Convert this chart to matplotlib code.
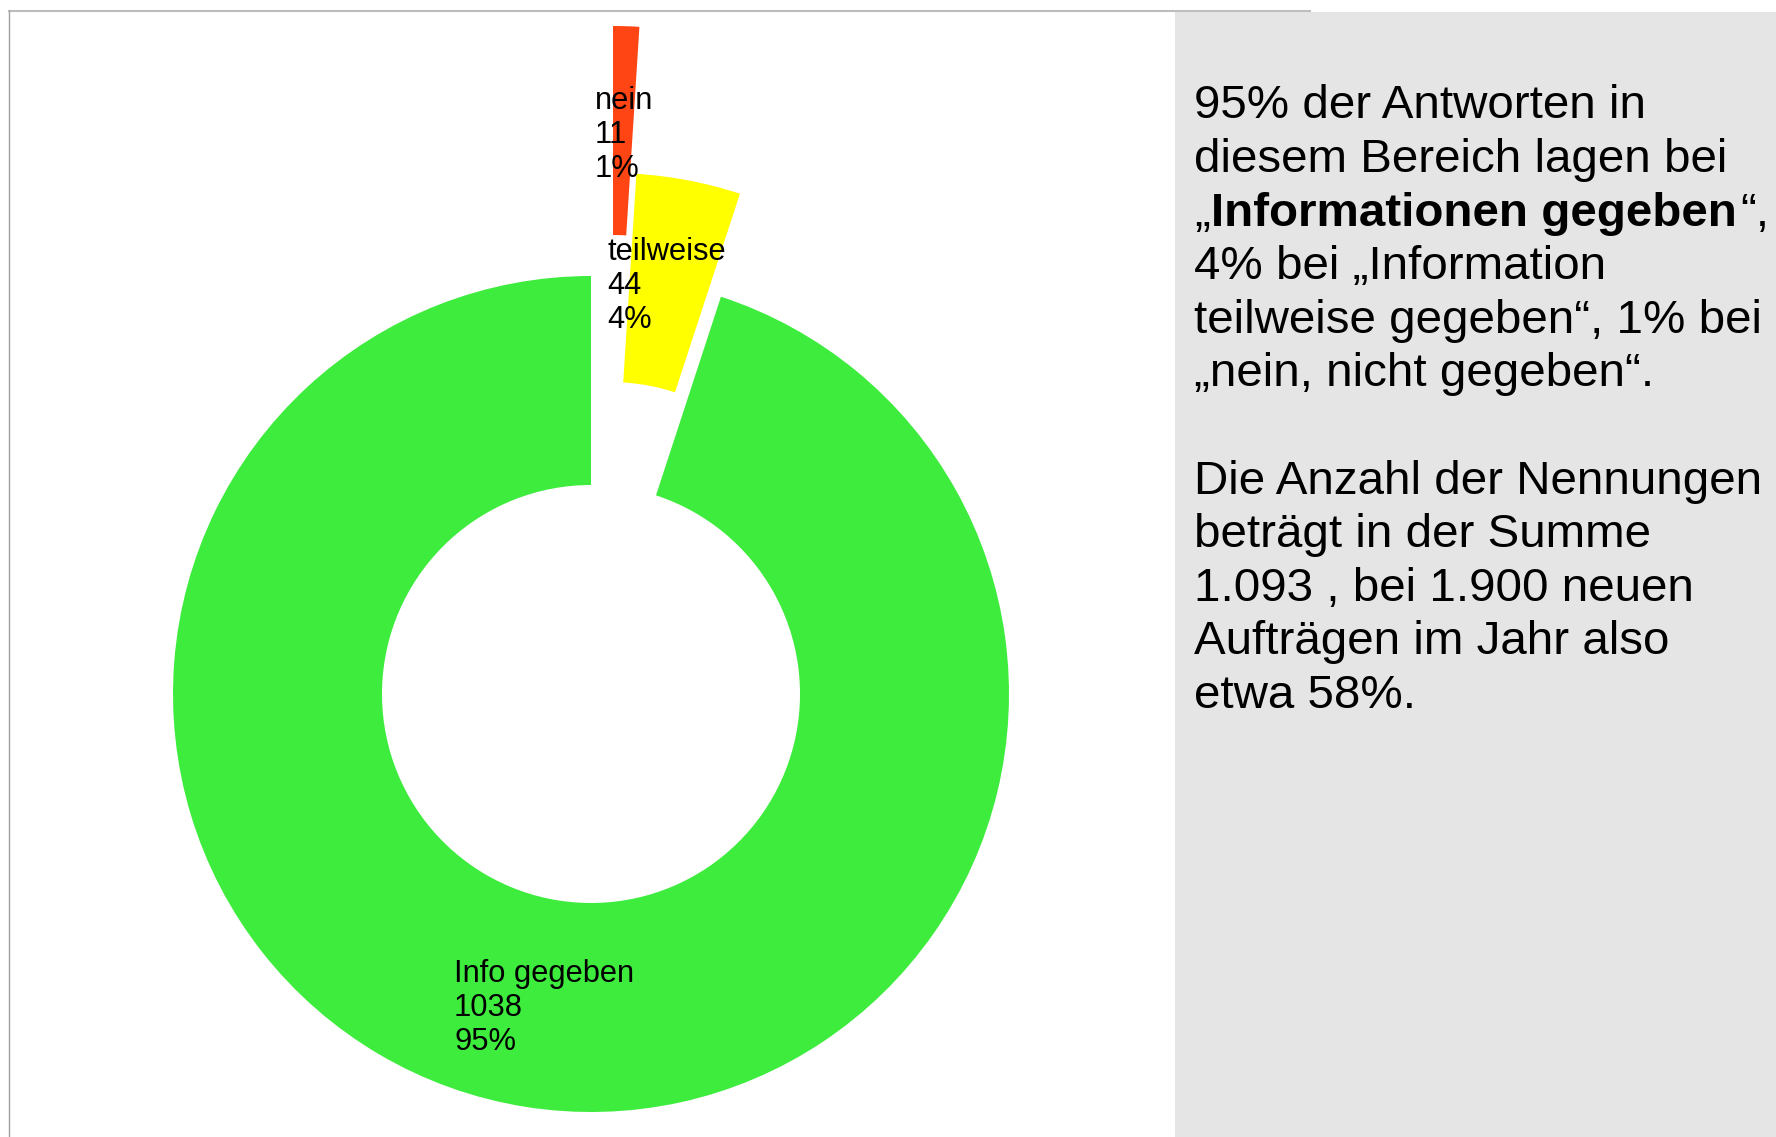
import matplotlib.pyplot as plt
from matplotlib.patches import Rectangle

W, H = 1776, 1137

# data
categories = ['Info gegeben', 'teilweise', 'nein']
counts = [1038, 44, 11]
colors = ['#3eec3e', '#ffff00', '#ff4514']

lines_top = ['95% der Antworten in',
             'diesem Bereich lagen bei',
             None,  # mixed bold line, drawn separately
             '4% bei \u201eInformation',
             'teilweise gegeben\u201c, 1% bei',
             '\u201enein, nicht gegeben\u201c.',
             '',
             'Die Anzahl der Nennungen',
             'beträgt in der Summe',
             '1.093 , bei 1.900 neuen',
             'Aufträgen im Jahr also',
             'etwa 58%.']
bold_line = ['\u201e', 'Informationen gegeben', '\u201c,']

plt.rcParams['font.family'] = ['Liberation Sans', 'DejaVu Sans']

fig = plt.figure(figsize=(W / 100, H / 100), dpi=100)
ax = fig.add_axes([0, 0, 1, 1])


def Y(y):
    # pixel row (from top) -> data y
    return H - y


# grey side panel and frame lines
ax.add_patch(Rectangle((1175, 0), W - 1175, Y(12), facecolor='#e5e5e5',
                       edgecolor='none', zorder=0))
ax.plot([9, 1310], [Y(11), Y(11)], color='#bdbdbd', lw=1.5, zorder=1)
ax.plot([9, 9], [Y(11), 0], color='#a0a0a0', lw=1, zorder=1)

# donut
cx, cy, R = 591, Y(694), 418
wedges, _ = ax.pie(counts, colors=colors, startangle=90, counterclock=True,
                   radius=R, center=(cx, cy),
                   wedgeprops=dict(width=R / 2, linewidth=0))
# pulled-out slices (px right, px up)
offsets = [(0, 0), (19, 103), (22, 250)]
for w, (dx, dy) in zip(wedges, offsets):
    w.set_center((cx + dx, cy + dy))

ax.set_xlim(0, W)
ax.set_ylim(0, H)
ax.set_aspect('auto')
ax.axis('off')

total = sum(counts)
label_pos = [(454, 982), (607, 260), (595, 109)]
for name, n, (lx, ly) in zip(categories, counts, label_pos):
    parts = [name, str(n), '%d%%' % round(100 * n / total)]
    for i, s in enumerate(parts):
        ax.text(lx, Y(ly + i * 34), s, fontsize=22.2, va='baseline', ha='left',
                zorder=5)

# text on the right
x0, base, step, fs = 1194, 118.3, 53.6, 34.2
for i, s in enumerate(lines_top):
    if s is None:
        continue
    ax.text(x0, Y(base + i * step), s, fontsize=fs, va='baseline', ha='left')

renderer = fig.canvas.get_renderer()
yb = Y(base + 2 * step)
t = ax.text(x0, yb, bold_line[0], fontsize=fs, va='baseline', ha='left')
x = t.get_window_extent(renderer).x1 + 1
t = ax.text(x, yb, bold_line[1], fontsize=fs, fontweight='bold',
            va='baseline', ha='left')
x = t.get_window_extent(renderer).x1 + 3
ax.text(x, yb, bold_line[2], fontsize=fs, va='baseline', ha='left')

fig.savefig('out.png', dpi=100)
